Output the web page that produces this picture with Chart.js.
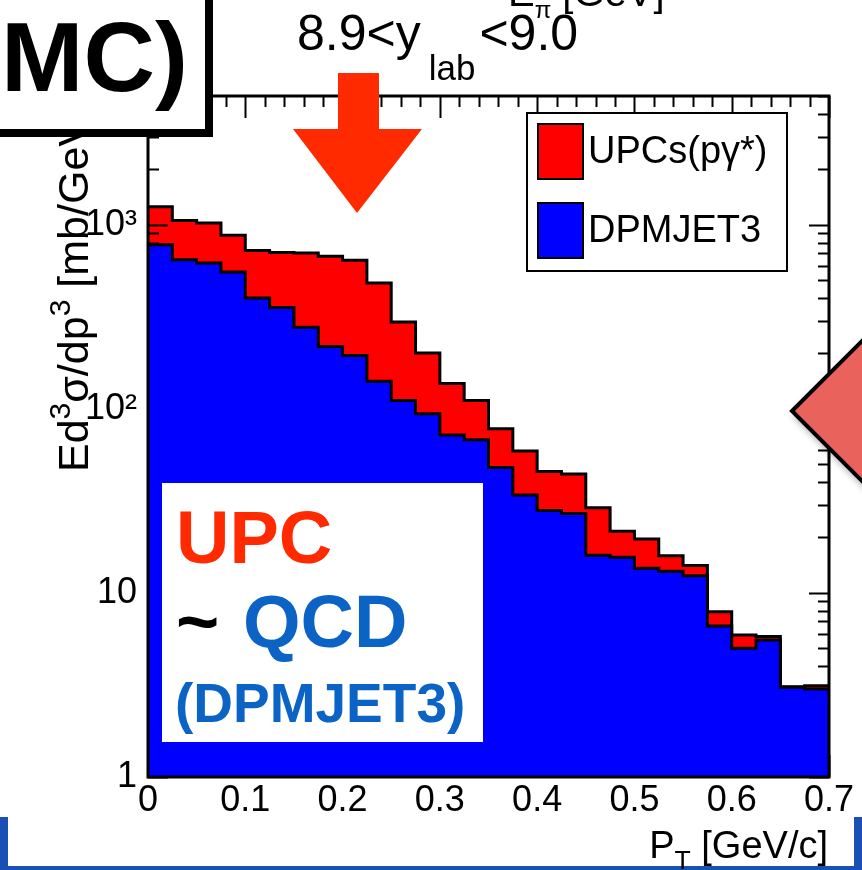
<!DOCTYPE html>
<html>
<head>
<meta charset="utf-8">
<script src="https://cdn.jsdelivr.net/npm/chart.js@4.4.1/dist/chart.umd.min.js"></script>
<style>
  html, body { margin: 0; padding: 0; background: #fff; }
  canvas { display: block; }
</style>
</head>
<body>
<canvas id="chart" width="862" height="870"></canvas>
<script>
// bin edges in P_T [GeV/c] (28 bins of 0.025)
const ptEdges = [
  0, 0.025, 0.05, 0.075, 0.1, 0.125, 0.15, 0.175, 0.2, 0.225,
  0.25, 0.275, 0.3, 0.325, 0.35, 0.375, 0.4, 0.425, 0.45, 0.475,
  0.5, 0.525, 0.55, 0.575, 0.6, 0.625, 0.65, 0.675, 0.7
];

// DPMJET3 (blue) per bin
const dpmjet = [
  778, 645, 619, 553, 400, 355, 277, 218, 195, 141,
  111, 94, 72, 68, 48, 34, 28, 27, 16, 15.6,
  13.6, 13.1, 12.4, 6.6, 5.0, 5.55, 3.07, 3.01
];

// UPCs(p gamma*) stacked on top of DPMJET3 (top of the red area) per bin
const stackTotal = [
  1253, 1055, 1021, 875, 725, 707, 702, 673, 640, 482,
  296, 201, 137, 111, 78, 59, 45.6, 44.3, 29, 21.6,
  19.6, 15.9, 14.1, 7.9, 5.9, 5.8, 3.09, 3.13
];

const xTickLabels = [0, 0.1, 0.2, 0.3, 0.4, 0.5, 0.6, 0.7];
const yTickLabels = [1, 10, 100, 1000];
const yTickText = { 1: '1', 10: '10', 100: '10\u00B2', 1000: '10\u00B3' };

const FONT = '"Liberation Sans", Arial, Helvetica, sans-serif';

function histPoints (values) {
  return ptEdges.map((x, i) => ({ x, y: values[Math.min(i, values.length - 1)] }));
}

// draw a row of text pieces, some as sub/superscripts
function drawRuns (ctx, runs, x, y, size) {
  let cx = x;
  runs.forEach(r => {
    const s = size * (r.scale || 1);
    ctx.font = (r.bold ? 'bold ' : '') + s + 'px ' + FONT;
    cx += r.gap || 0;
    ctx.fillText(r.t, cx, y + (r.dy || 0) * size);
    cx += ctx.measureText(r.t).width;
  });
  return cx - x;
}

function runsWidth (ctx, runs, size) {
  let w = 0;
  runs.forEach(r => {
    ctx.font = (r.bold ? 'bold ' : '') + size * (r.scale || 1) + 'px ' + FONT;
    w += (r.gap || 0) + ctx.measureText(r.t).width;
  });
  return w;
}

function drawTicks (chart) {
  const { ctx, chartArea: a, scales: { x, y } } = chart;
  ctx.save();
  ctx.strokeStyle = '#000';
  ctx.lineWidth = 2;
  ctx.beginPath();
  // x ticks, every 0.02, long at every 0.1
  for (let k = 0; k <= 35; k++) {
    const px = Math.round(x.getPixelForValue(k * 0.02)) + 0.5;
    const len = k % 5 === 0 ? 22 : 11;
    ctx.moveTo(px, a.top); ctx.lineTo(px, a.top + len);
    ctx.moveTo(px, a.bottom); ctx.lineTo(px, a.bottom - len);
  }
  // y ticks on both sides, 1..9 per decade
  for (let d = 1; d <= 1000; d *= 10) {
    for (let m = 1; m <= 9; m++) {
      const v = m * d;
      if (v > y.max) break;
      const py = Math.round(y.getPixelForValue(v)) + 0.5;
      const len = m === 1 ? 20 : 11;
      ctx.moveTo(a.left, py); ctx.lineTo(a.left + len, py);
      ctx.moveTo(a.right, py); ctx.lineTo(a.right - len, py);
    }
  }
  ctx.stroke();
  ctx.restore();
}

const decorPlugin = {
  id: 'decor',
  afterDatasetDraw (chart, args) {
    // axis ticks sit over the red stack but under the blue DPMJET3 histogram
    if (args.index === 1) drawTicks(chart);
  },
  afterDraw (chart) {
    const { ctx, chartArea: a } = chart;
    ctx.save();

    // frame
    ctx.strokeStyle = '#000';
    ctx.lineWidth = 3;
    ctx.strokeRect(a.left, a.top, a.right - a.left, a.bottom - a.top);

    // legend
    ctx.fillStyle = '#fff';
    ctx.fillRect(527, 113, 260, 158);
    ctx.lineWidth = 2;
    ctx.strokeRect(527, 113, 260, 158);
    const legendItems = [chart.data.datasets[1], chart.data.datasets[0]];
    legendItems.forEach((ds, i) => {
      const top = 124 + i * 79;
      ctx.fillStyle = ds.backgroundColor;
      ctx.fillRect(538, top, 45, 55);
      ctx.lineWidth = 2;
      ctx.strokeStyle = '#000';
      ctx.strokeRect(538, top, 45, 55);
      ctx.fillStyle = '#000';
      ctx.font = '38px ' + FONT;
      ctx.textBaseline = 'middle';
      ctx.fillText(ds.label, 588, top + 29);
    });
    ctx.textBaseline = 'alphabetic';

    // text box inside the plot
    ctx.fillStyle = '#fff';
    ctx.fillRect(162, 483, 321, 259);
    ctx.font = 'bold 74px ' + FONT;
    ctx.fillStyle = '#ff2a00';
    ctx.fillText('UPC', 176, 563);
    ctx.fillStyle = '#000';
    ctx.fillText('~', 176, 647);
    ctx.fillStyle = '#0b63c5';
    ctx.fillText('QCD', 243, 647);
    ctx.font = 'bold 55px ' + FONT;
    ctx.fillText('(DPMJET3)', 175, 722);

    // y axis title (rotated)
    ctx.save();
    ctx.translate(88, 472);
    ctx.rotate(-Math.PI / 2);
    ctx.fillStyle = '#000';
    drawRuns(ctx, [
      { t: 'Ed' }, { t: '3', scale: 0.7, dy: -0.42 }, { t: '\u03C3/dp' },
      { t: '3', scale: 0.7, dy: -0.42 }, { t: ' [mb/GeV' }, { t: '2', scale: 0.7, dy: -0.42 }, { t: ']' }
    ], 0, 0, 43);
    ctx.restore();

    // header texts
    ctx.fillStyle = '#000';
    drawRuns(ctx, [
      { t: 'E' }, { t: '\u03C0', scale: 0.6, dy: 0.3 }, { t: ' [GeV]' }
    ], 508, 6, 40);
    drawRuns(ctx, [
      { t: '8.9<y' }, { t: 'lab', scale: 0.7, dy: 0.6, gap: 8 }, { t: '<9.0', gap: 4 }
    ], 297, 50, 50);

    // red arrow pointing down at the plot
    ctx.fillStyle = '#ff2a00';
    ctx.fillRect(338, 73, 41, 57);
    ctx.beginPath();
    ctx.moveTo(293, 129);
    ctx.lineTo(422, 129);
    ctx.lineTo(357, 213);
    ctx.closePath();
    ctx.fill();

    // "(MC)" box top-left
    ctx.fillStyle = '#fff';
    ctx.fillRect(-10, -10, 219, 143);
    ctx.strokeStyle = '#000';
    ctx.lineWidth = 8;
    ctx.strokeRect(-10, -10, 219, 143);
    ctx.fillStyle = '#000';
    ctx.font = 'bold 99px ' + FONT;
    ctx.textAlign = 'right';
    ctx.fillText('MC)', 188, 91);
    ctx.textAlign = 'left';

    // slide strip at the bottom
    ctx.fillStyle = '#1a50b4';
    ctx.fillRect(0, 817, 862, 53);
    ctx.fillStyle = '#fff';
    ctx.fillRect(8, 817, 846, 49);

    // x axis title
    ctx.fillStyle = '#000';
    const xTitle = [{ t: 'P' }, { t: 'T', scale: 0.7, dy: 0.3 }, { t: ' [GeV/c]' }];
    drawRuns(ctx, xTitle, 828 - runsWidth(ctx, xTitle, 38), 858, 38);

    // diamond on the right edge
    ctx.save();
    ctx.shadowColor = 'rgba(0,0,0,0.45)';
    ctx.shadowBlur = 8;
    ctx.shadowOffsetX = 2;
    ctx.shadowOffsetY = 4;
    ctx.beginPath();
    ctx.moveTo(792, 411);
    ctx.lineTo(912, 291);
    ctx.lineTo(1032, 411);
    ctx.lineTo(912, 531);
    ctx.closePath();
    ctx.fillStyle = '#e9625b';
    ctx.fill();
    ctx.restore();
    ctx.beginPath();
    ctx.moveTo(792, 411);
    ctx.lineTo(912, 291);
    ctx.lineTo(1032, 411);
    ctx.lineTo(912, 531);
    ctx.closePath();
    ctx.strokeStyle = '#000';
    ctx.lineWidth = 4;
    ctx.stroke();

    ctx.restore();
  }
};

new Chart(document.getElementById('chart'), {
  type: 'line',
  data: {
    datasets: [
      {
        label: 'DPMJET3',
        data: histPoints(dpmjet),
        stepped: true,
        borderColor: '#000',
        borderWidth: 3,
        backgroundColor: '#0000ff',
        fill: 'start',
        pointRadius: 0
      },
      {
        label: 'UPCs(p\u03B3*)',
        data: histPoints(stackTotal),
        stepped: true,
        borderColor: '#000',
        borderWidth: 3,
        backgroundColor: '#ff0000',
        fill: 'start',
        pointRadius: 0
      }
    ]
  },
  options: {
    responsive: false,
    animation: false,
    devicePixelRatio: 1,
    layout: { padding: { top: 96, right: 33, left: 0, bottom: 0 } },
    plugins: {
      legend: { display: false },
      tooltip: { enabled: false }
    },
    scales: {
      x: {
        type: 'linear',
        min: 0,
        max: 0.7,
        grid: { display: false, drawTicks: false },
        border: { display: false },
        afterBuildTicks: scale => { scale.ticks = xTickLabels.map(v => ({ value: v })); },
        afterFit: scale => { scale.height = 93; },
        ticks: {
          padding: 2,
          color: '#000',
          font: { family: FONT, size: 36 },
          maxRotation: 0,
          callback: v => (v === 0 ? '0' : v.toFixed(1))
        }
      },
      y: {
        type: 'logarithmic',
        min: 1,
        max: 5000,
        grid: { display: false, drawTicks: false },
        border: { display: false },
        afterBuildTicks: scale => { scale.ticks = yTickLabels.map(v => ({ value: v })); },
        afterFit: scale => { scale.width = 148; },
        ticks: {
          padding: 11,
          color: '#000',
          font: { family: FONT, size: 36 },
          callback: v => yTickText[v]
        }
      }
    }
  },
  plugins: [decorPlugin]
});
</script>
</body>
</html>
